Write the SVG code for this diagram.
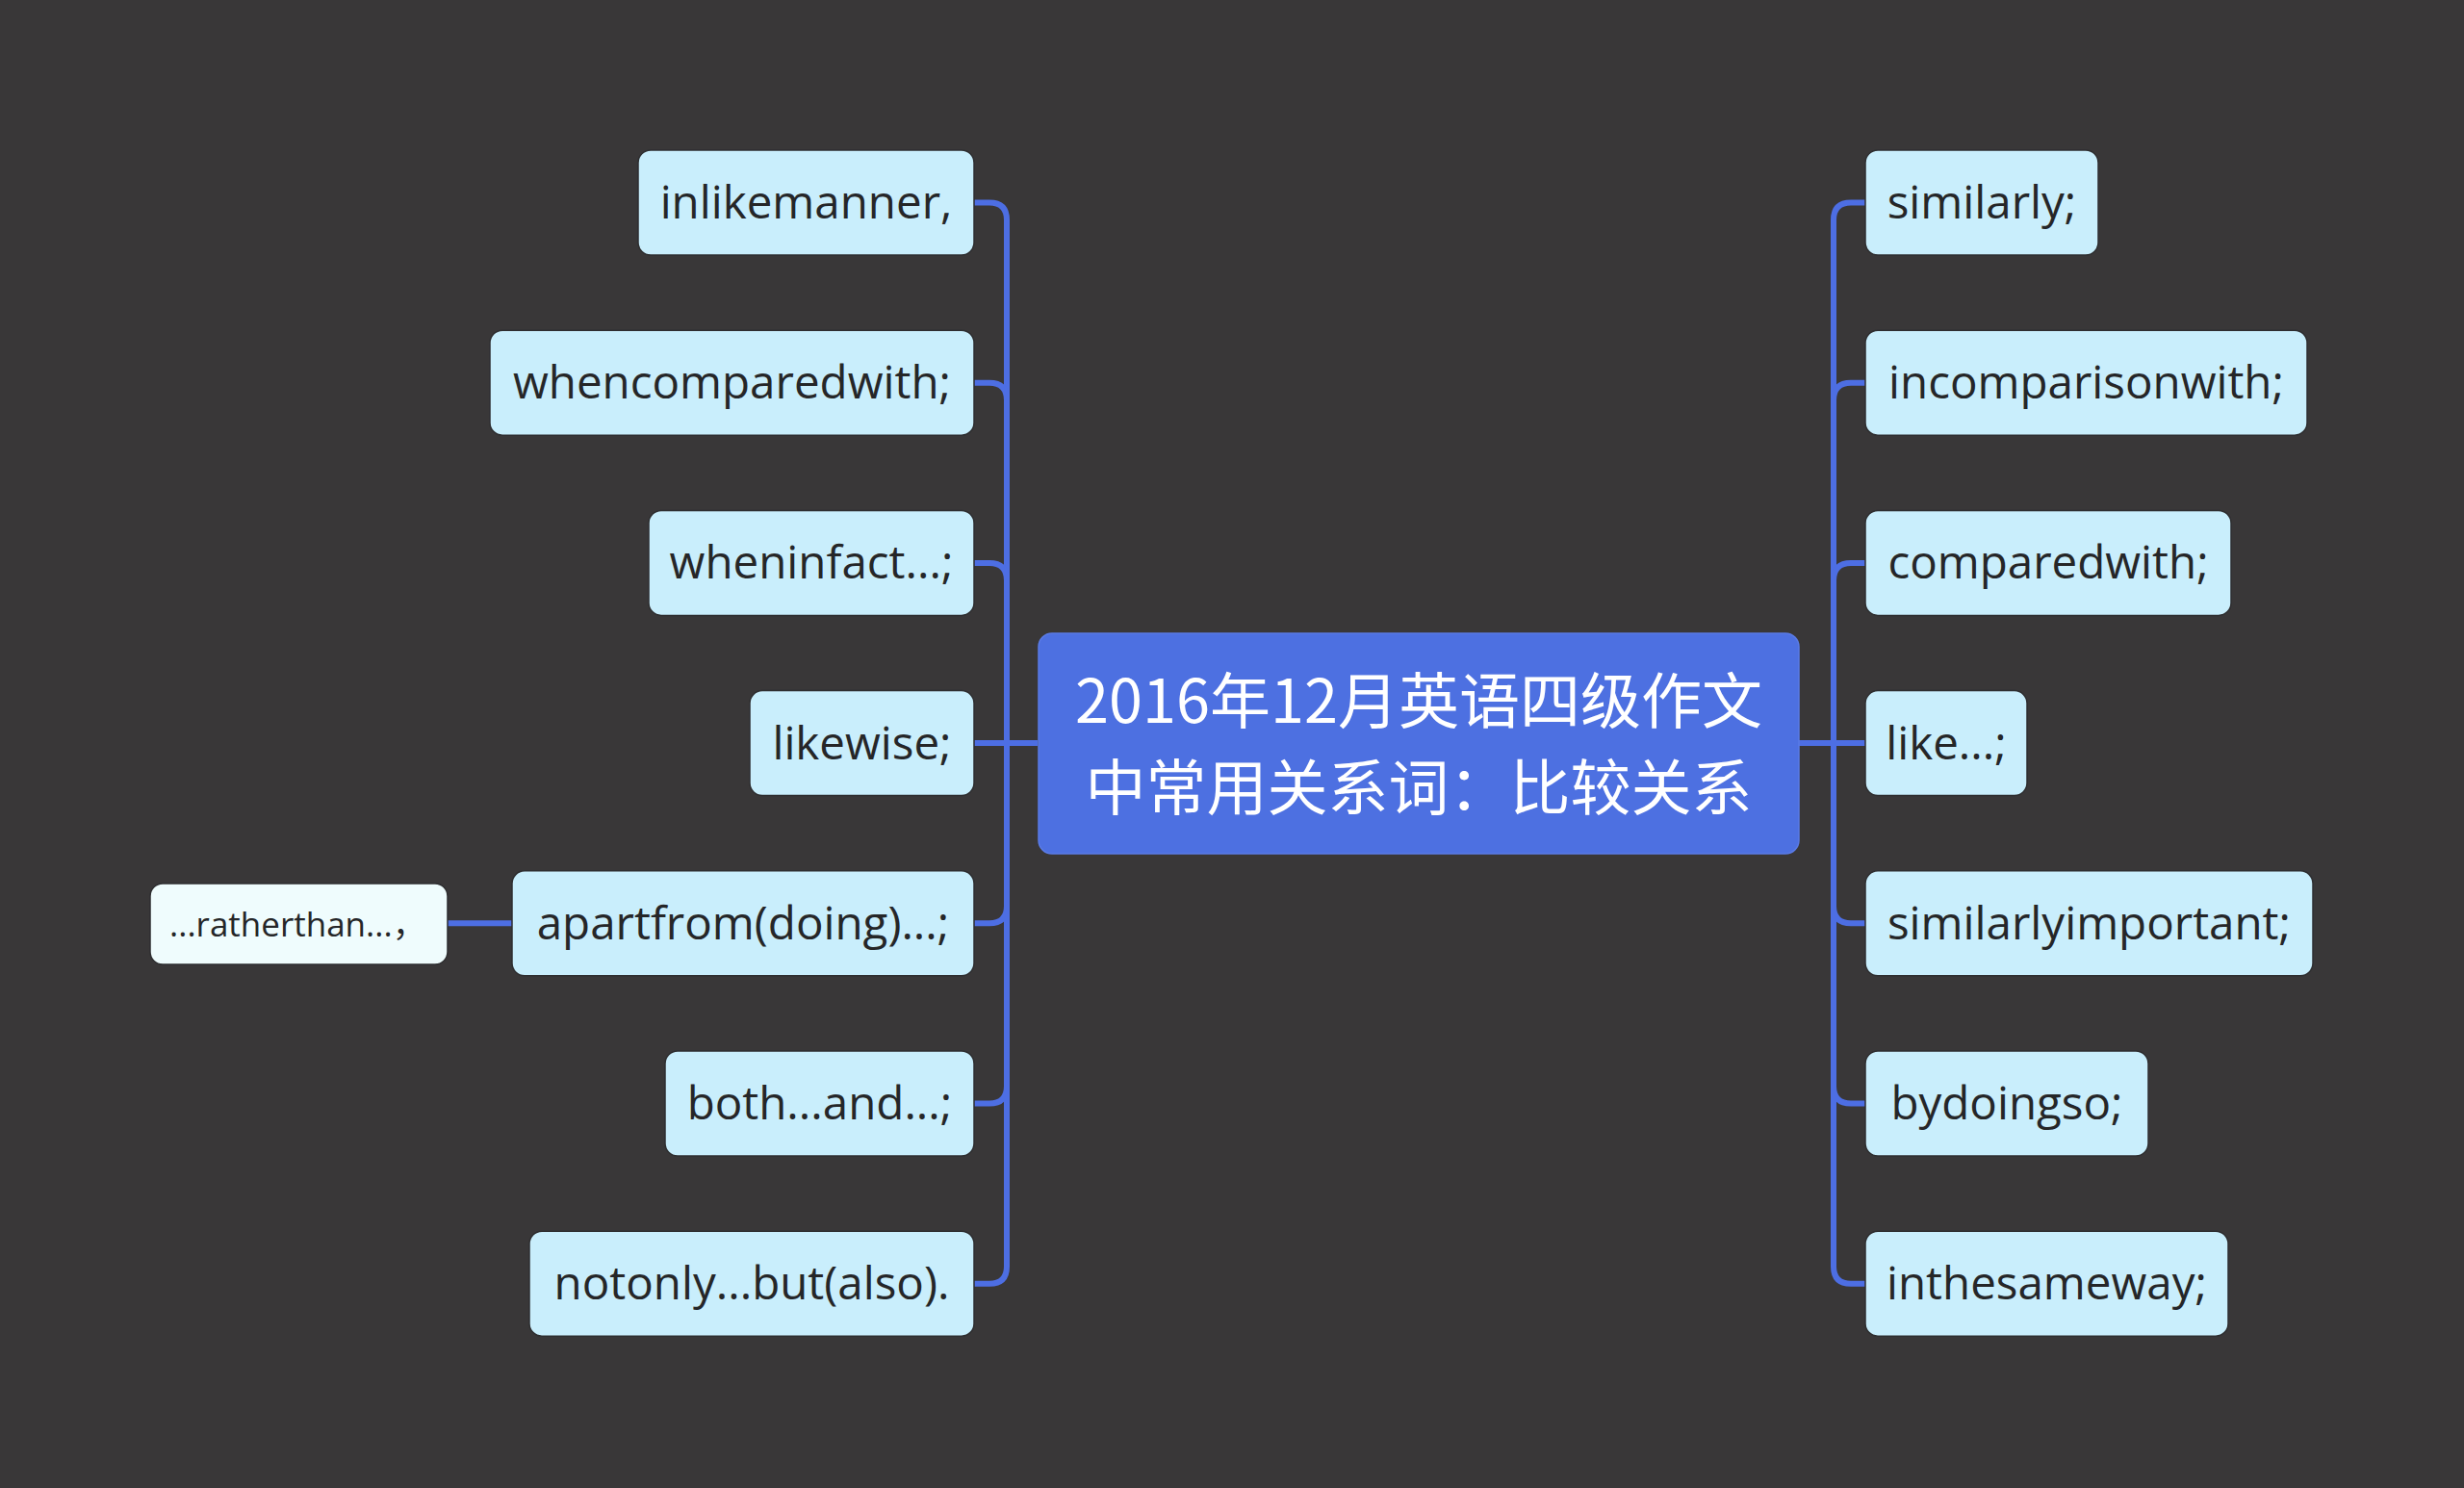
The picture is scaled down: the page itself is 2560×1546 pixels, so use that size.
<svg xmlns="http://www.w3.org/2000/svg" width="2560" height="1546" viewBox="0 0 2560 1546">
<style>
.bg{fill:#393738}
.leaf rect{fill:#c9eefc;stroke:#2e2e30;stroke-width:1.5}
.leaf text{font-family:"Open Sans","Noto Sans",sans-serif;font-size:47.5px;fill:#252628;text-anchor:middle}
.sub rect{fill:#effcfd;stroke:#2e2e30;stroke-width:1.5}
.sub text{font-family:"Open Sans","Noto Sans","Noto Sans CJK SC",sans-serif;font-size:35px;fill:#252628;text-anchor:start}
.root rect{fill:#4d70e1;stroke:#5a7be6;stroke-width:1.5}
.root text{font-family:"Noto Sans CJK SC","Noto Sans",sans-serif;font-size:63px;fill:#ffffff;text-anchor:middle}
.conn path{fill:none;stroke:#4d6ee3;stroke-width:6;stroke-linecap:butt}
</style>
<rect class="bg" x="0" y="0" width="2560" height="1546"/>
<g class="conn" id="connectors">
<path d="M1078,772 H1046 V228.5 Q1046,210.5 1028,210.5 H1012"/>
<path d="M1078,772 H1046 V415.7 Q1046,397.7 1028,397.7 H1012"/>
<path d="M1078,772 H1046 V602.9 Q1046,584.9 1028,584.9 H1012"/>
<path d="M1078,772 H1012"/>
<path d="M1078,772 H1046 V941.3 Q1046,959.3 1028,959.3 H1012"/>
<path d="M1078,772 H1046 V1128.5 Q1046,1146.5 1028,1146.5 H1012"/>
<path d="M1078,772 H1046 V1315.7 Q1046,1333.7 1028,1333.7 H1012"/>
<path d="M1869,772 H1905 V228.5 Q1905,210.5 1923,210.5 H1938"/>
<path d="M1869,772 H1905 V415.7 Q1905,397.7 1923,397.7 H1938"/>
<path d="M1869,772 H1905 V602.9 Q1905,584.9 1923,584.9 H1938"/>
<path d="M1869,772 H1938"/>
<path d="M1869,772 H1905 V941.3 Q1905,959.3 1923,959.3 H1938"/>
<path d="M1869,772 H1905 V1128.5 Q1905,1146.5 1923,1146.5 H1938"/>
<path d="M1869,772 H1905 V1315.7 Q1905,1333.7 1923,1333.7 H1938"/>
<path d="M532,959.3 H465"/>
</g>
<g class="root" id="root">
<rect x="1079" y="658" width="790" height="229" rx="14"/>
<text x="1474" y="751">2016年12月英语四级作文</text>
<text x="1474" y="841">中常用关系词：比较关系</text>
</g>
<g class="leaf" id="l1"><rect x="663" y="156" width="349" height="109" rx="13"/><text x="837.5" y="227">inlikemanner,</text></g>
<g class="leaf" id="l2"><rect x="509" y="343.2" width="503" height="109" rx="13"/><text x="760.5" y="414.2">whencomparedwith;</text></g>
<g class="leaf" id="l3"><rect x="674" y="530.4" width="338" height="109" rx="13"/><text x="843" y="601.4">wheninfact...;</text></g>
<g class="leaf" id="l4"><rect x="779" y="717.6" width="233" height="109" rx="13"/><text x="895.5" y="788.6">likewise;</text></g>
<g class="leaf" id="l5"><rect x="532" y="904.8" width="480" height="109" rx="13"/><text x="772" y="975.8">apartfrom(doing)...;</text></g>
<g class="leaf" id="l6"><rect x="691" y="1092" width="321" height="109" rx="13"/><text x="851.5" y="1163">both...and...;</text></g>
<g class="leaf" id="l7"><rect x="550" y="1279.2" width="462" height="109" rx="13"/><text x="781" y="1350.2">notonly...but(also).</text></g>
<g class="sub" id="s1"><rect x="156" y="918" width="309" height="84" rx="13"/><text x="176" y="973">...ratherthan...，</text></g>
<g class="leaf" id="r1"><rect x="1938" y="156" width="242" height="109" rx="13"/><text x="2059" y="227">similarly;</text></g>
<g class="leaf" id="r2"><rect x="1938" y="343.2" width="459" height="109" rx="13"/><text x="2167.5" y="414.2">incomparisonwith;</text></g>
<g class="leaf" id="r3"><rect x="1938" y="530.4" width="380" height="109" rx="13"/><text x="2128" y="601.4">comparedwith;</text></g>
<g class="leaf" id="r4"><rect x="1938" y="717.6" width="168" height="109" rx="13"/><text x="2022" y="788.6">like...;</text></g>
<g class="leaf" id="r5"><rect x="1938" y="904.8" width="465" height="109" rx="13"/><text x="2170.5" y="975.8">similarlyimportant;</text></g>
<g class="leaf" id="r6"><rect x="1938" y="1092" width="294" height="109" rx="13"/><text x="2085" y="1163">bydoingso;</text></g>
<g class="leaf" id="r7"><rect x="1938" y="1279.2" width="377" height="109" rx="13"/><text x="2126.5" y="1350.2">inthesameway;</text></g>
</svg>
